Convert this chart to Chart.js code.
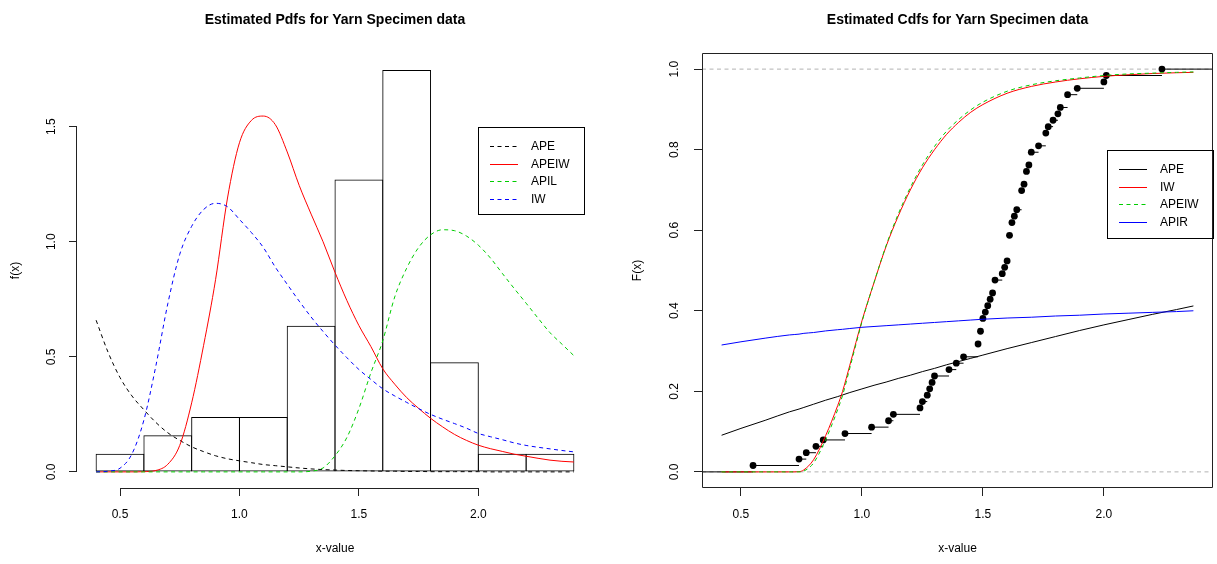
<!DOCTYPE html>
<html lang="en">
<head>
<meta charset="UTF-8">
<title>Estimated Pdfs and Cdfs for Yarn Specimen data</title>
<script src="https://cdn.jsdelivr.net/npm/chart.js"></script>
<style>
    body {
        margin: 0;
        background: #fff;
    }

    .panel {
        position: absolute;
        top: 0;
    }

    #pdfChart { left: 0; }
    #cdfChart { left: 608px; }
</style>
</head>
<body>
<canvas id="pdfChart" class="panel" width="608" height="564"></canvas>
<canvas id="cdfChart" class="panel" width="609" height="564"></canvas>

<script>
    // ---- left panel: histogram + fitted densities ----
    const histMid = [0.5, 0.7, 0.9, 1.1, 1.3, 1.5, 1.7, 1.9, 2.1, 2.3];
    const histDensity = [0.079, 0.159, 0.238, 0.238, 0.635, 1.270, 1.746, 0.476, 0.079, 0.079];

    const pdfX = [0.40, 0.45, 0.50, 0.55, 0.60, 0.65, 0.70, 0.75, 0.80, 0.85, 0.90, 0.95, 1.00, 1.05,
        1.10, 1.15, 1.20, 1.25, 1.30, 1.35, 1.40, 1.45, 1.50, 1.55, 1.60, 1.65, 1.70, 1.75, 1.80,
        1.85, 1.90, 1.95, 2.00, 2.05, 2.10, 2.15, 2.20, 2.25, 2.30, 2.35, 2.40];
    const apePdf = [0.659, 0.52, 0.41, 0.33, 0.27, 0.215, 0.17, 0.137, 0.109, 0.088, 0.07, 0.057, 0.048,
        0.04, 0.032, 0.027, 0.022, 0.017, 0.013, 0.01, 0.008, 0.006, 0.005, 0.004, 0.003, 0.003, 0.002,
        0.002, 0.001, 0.001, 0.001, 0.001, 0.001, 0, 0, 0, 0, 0, 0, 0, 0];
    const apeiwPdf = [0, 0, 0, 0, 0.001, 0.006, 0.033, 0.115, 0.30, 0.55, 0.835, 1.19, 1.43, 1.527, 1.546,
        1.509, 1.39, 1.245, 1.12, 1.00, 0.867, 0.744, 0.636, 0.545, 0.448, 0.381, 0.323, 0.276, 0.233,
        0.196, 0.163, 0.137, 0.116, 0.101, 0.089, 0.077, 0.068, 0.059, 0.051, 0.046, 0.043];
    const apilPdf = [0, 0, 0, 0, 0, 0, 0, 0, 0, 0, 0, 0, 0, 0, 0, 0, 0, 0, 0.003, 0.017, 0.07, 0.15,
        0.275, 0.43, 0.57, 0.76, 0.885, 0.975, 1.03, 1.052, 1.048, 1.025, 0.985, 0.93, 0.863, 0.797,
        0.733, 0.668, 0.605, 0.555, 0.505];
    const iwPdf = [0, 0.003, 0.016, 0.078, 0.225, 0.46, 0.73, 0.945, 1.067, 1.14, 1.167, 1.152, 1.097,
        1.04, 0.975, 0.89, 0.815, 0.742, 0.673, 0.61, 0.551, 0.496, 0.445, 0.402, 0.361, 0.33, 0.302,
        0.275, 0.25, 0.229, 0.21, 0.19, 0.167, 0.153, 0.14, 0.126, 0.115, 0.107, 0.1, 0.093, 0.087];

    const pdfXTicks = [0.5, 1.0, 1.5, 2.0];
    const pdfYTicks = [0.0, 0.5, 1.0, 1.5];

    // ---- right panel: empirical cdf + fitted cdfs ----
    const ecdfX = [0.55, 0.74, 0.77, 0.81, 0.84, 0.93, 1.04, 1.11, 1.13, 1.24, 1.25, 1.27, 1.28, 1.29,
        1.30, 1.36, 1.39, 1.42, 1.48, 1.49, 1.50, 1.51, 1.52, 1.53, 1.54, 1.55, 1.58, 1.59, 1.60, 1.61,
        1.62, 1.63, 1.64, 1.66, 1.67, 1.68, 1.69, 1.70, 1.73, 1.76, 1.77, 1.79, 1.81, 1.82, 1.85, 1.89,
        2.00, 2.01, 2.24];
    const ecdfCount = [1, 1, 1, 1, 1, 1, 1, 1, 1, 1, 1, 1, 1, 1, 1, 1, 1, 1, 2, 2, 2, 1, 1, 1, 1, 2,
        1, 1, 1, 4, 2, 1, 1, 3, 1, 2, 1, 2, 1, 2, 1, 1, 1, 1, 2, 1, 1, 1, 1];

    const cdfX = [0.42, 0.5, 0.6, 0.7, 0.74, 0.76, 0.8, 0.85, 0.9, 0.92, 0.95, 1.0, 1.05, 1.1, 1.15,
        1.2, 1.25, 1.3, 1.35, 1.4, 1.45, 1.5, 1.6, 1.7, 1.8, 1.9, 2.0, 2.1, 2.2, 2.3, 2.37];
    const apeCdf = [0.091, 0.108, 0.128, 0.149, 0.156, 0.16, 0.168, 0.178, 0.187, 0.191, 0.197, 0.206,
        0.215, 0.223, 0.232, 0.24, 0.249, 0.257, 0.266, 0.274, 0.282, 0.29, 0.306, 0.321, 0.336, 0.351,
        0.365, 0.378, 0.391, 0.403, 0.412];
    const iwCdf = [0, 0, 0, 0, 0.0005, 0.005, 0.03, 0.09, 0.165, 0.2, 0.265, 0.375, 0.47, 0.56, 0.635,
        0.70, 0.755, 0.80, 0.838, 0.868, 0.893, 0.912, 0.94, 0.957, 0.968, 0.976, 0.982, 0.986, 0.989,
        0.991, 0.992];
    const apeiwCdf = [0, 0, 0, 0, 0, 0.002, 0.022, 0.08, 0.155, 0.19, 0.258, 0.372, 0.47, 0.562, 0.64,
        0.706, 0.762, 0.808, 0.846, 0.875, 0.899, 0.918, 0.945, 0.961, 0.971, 0.978, 0.984, 0.988, 0.99,
        0.992, 0.993];
    const apirCdf = [0.315, 0.323, 0.332, 0.34, 0.342, 0.344, 0.346, 0.35, 0.353, 0.354, 0.356, 0.359,
        0.361, 0.363, 0.365, 0.367, 0.369, 0.371, 0.373, 0.375, 0.377, 0.379, 0.382, 0.384, 0.387, 0.389,
        0.392, 0.394, 0.396, 0.398, 0.40];

    const cdfXTicks = [0.5, 1.0, 1.5, 2.0];
    const cdfYTicks = [0.0, 0.2, 0.4, 0.6, 0.8, 1.0];

    const FONT = '"Liberation Sans", Arial, Helvetica, sans-serif';
    Chart.defaults.font.family = FONT;
    Chart.defaults.font.size = 12;
    Chart.defaults.color = '#000';

    const DASH = [4, 3.5];
    const SOLID = [];

    // line styles, shared by the curves and their legend keys
    const pdfStyle = {
        APE: { color: '#000000', dash: DASH },
        APEIW: { color: '#FF0000', dash: SOLID },
        APIL: { color: '#00CD00', dash: DASH },
        IW: { color: '#0000FF', dash: DASH }
    };
    const cdfStyle = {
        APE: { color: '#000000', dash: SOLID },
        IW: { color: '#FF0000', dash: SOLID },
        APEIW: { color: '#00CD00', dash: DASH },
        APIR: { color: '#0000FF', dash: SOLID }
    };

    // R-like axes, box, title and legend
    const rFrame = {
        id: 'rFrame',
        afterDraw(chart, args, opts) {
            const { ctx, chartArea: a, scales: { x, y } } = chart;
            ctx.save();
            ctx.lineWidth = 1;
            ctx.strokeStyle = '#222';
            ctx.setLineDash([]);
            ctx.beginPath();
            if (opts.box) {
                ctx.rect(Math.round(a.left) + 0.5, Math.round(a.top) + 0.5,
                    Math.round(a.width) - 1, Math.round(a.height) - 1);
            } else {
                const yb = Math.round(a.bottom) + 0.5;
                ctx.moveTo(x.getPixelForValue(opts.xTicks[0]), yb);
                ctx.lineTo(x.getPixelForValue(opts.xTicks[opts.xTicks.length - 1]), yb);
                const xl = Math.round(a.left) - 0.5;
                ctx.moveTo(xl, y.getPixelForValue(opts.yTicks[0]));
                ctx.lineTo(xl, y.getPixelForValue(opts.yTicks[opts.yTicks.length - 1]));
            }
            ctx.stroke();

            // title
            ctx.fillStyle = '#000';
            ctx.font = 'bold 14px ' + FONT;
            ctx.textAlign = 'center';
            ctx.textBaseline = 'middle';
            ctx.fillText(opts.title, (a.left + a.right) / 2, opts.titleY);

            // legend
            const L = opts.legend;
            ctx.strokeStyle = '#000';
            ctx.strokeRect(L.x + 0.5, L.y + 0.5, L.w, L.h);
            ctx.font = '12px ' + FONT;
            ctx.textAlign = 'left';
            L.items.forEach((name, i) => {
                const st = L.styles[name];
                const ly = Math.round(L.y + L.first + i * L.gap) + 0.5;
                ctx.beginPath();
                ctx.strokeStyle = st.color;
                ctx.setLineDash(st.dash);
                ctx.moveTo(L.x + L.line[0], ly);
                ctx.lineTo(L.x + L.line[1], ly);
                ctx.stroke();
                ctx.setLineDash([]);
                ctx.fillStyle = '#000';
                ctx.fillText(name, L.x + L.text, ly);
            });
            ctx.restore();
        }
    };

    function rAxis(min, max, ticks, size, tickPad, title, titlePad, isY) {
        return {
            type: 'linear',
            min: min,
            max: max,
            offset: false,
            afterBuildTicks: s => { s.ticks = ticks.map(v => ({ value: v })); },
            afterFit: s => { if (isY) s.width = size; else s.height = size; },
            border: { display: false },
            grid: { offset: false, drawOnChartArea: false, drawTicks: true, tickLength: 8, color: '#222' },
            ticks: {
                padding: tickPad,
                callback: v => Number(v).toFixed(1),
                minRotation: isY ? 90 : 0,
                maxRotation: isY ? 90 : 0,
                crossAlign: isY ? 'center' : 'near'
            },
            title: {
                display: true,
                text: title,
                padding: isY ? { top: titlePad, bottom: 0 } : { top: 0, bottom: titlePad }
            }
        };
    }

    function curve(label, xs, ys, style, order) {
        return {
            label: label,
            data: xs.map((x, i) => ({ x: x, y: ys[i] })),
            showLine: true,
            borderColor: style.color,
            borderWidth: 1,
            borderDash: style.dash,
            pointRadius: 0,
            cubicInterpolationMode: 'monotone',
            fill: false,
            order: order
        };
    }

    // left chart
    new Chart(document.getElementById('pdfChart'), {
        type: 'scatter',
        data: {
            datasets: [
                {
                    type: 'bar',
                    label: 'hist',
                    data: histMid.map((x, i) => ({ x: x, y: histDensity[i] })),
                    backgroundColor: 'rgba(0,0,0,0)',
                    borderColor: '#000',
                    borderWidth: 1,
                    borderSkipped: false,
                    // a hair wider than the bin so neighbouring borders share one pixel line
                    barPercentage: 1.021,
                    categoryPercentage: 1,
                    grouped: false,
                    order: 10
                },
                curve('APE', pdfX, apePdf, pdfStyle.APE, 4),
                curve('APEIW', pdfX, apeiwPdf, pdfStyle.APEIW, 3),
                curve('APIL', pdfX, apilPdf, pdfStyle.APIL, 2),
                curve('IW', pdfX, iwPdf, pdfStyle.IW, 1)
            ]
        },
        options: {
            responsive: false,
            animation: false,
            devicePixelRatio: 1,
            layout: { padding: { top: 53, left: 0, right: 15, bottom: 0 } },
            scales: {
                x: rAxis(0.32, 2.48, pdfXTicks, 76, 11.8, 'x-value', 7.8, false),
                y: rAxis(-0.07, 1.82, pdfYTicks, 77, 8.7, 'f(x)', 8.8, true)
            },
            plugins: {
                legend: { display: false },
                tooltip: { enabled: false },
                rFrame: {
                    box: false,
                    xTicks: pdfXTicks,
                    yTicks: pdfYTicks,
                    title: 'Estimated Pdfs for Yarn Specimen data',
                    titleY: 20,
                    legend: {
                        x: 478, y: 127, w: 106, h: 87, first: 19, gap: 17.5,
                        line: [12, 40], text: 53,
                        items: ['APE', 'APEIW', 'APIL', 'IW'],
                        styles: pdfStyle
                    }
                }
            }
        },
        plugins: [rFrame]
    });

    // right chart
    const cdfMin = 0.339, cdfMax = 2.451;
    const total = ecdfCount.reduce((s, n) => s + n, 0);
    let cum = 0;
    const ecdfPts = ecdfX.map((x, i) => {
        cum += ecdfCount[i];
        return { x: x, y: cum / total };
    });
    const stepPts = [{ x: cdfMin, y: 0 }, { x: ecdfX[0], y: 0 }, { x: null, y: null }];
    ecdfPts.forEach((p, i) => {
        const xEnd = i < ecdfPts.length - 1 ? ecdfPts[i + 1].x : cdfMax;
        stepPts.push({ x: p.x, y: p.y }, { x: xEnd, y: p.y }, { x: null, y: null });
    });

    new Chart(document.getElementById('cdfChart'), {
        type: 'scatter',
        data: {
            datasets: [
                {
                    label: 'ref',
                    data: [{ x: cdfMin, y: 0 }, { x: cdfMax, y: 0 }, { x: null, y: null },
                        { x: cdfMin, y: 1 }, { x: cdfMax, y: 1 }],
                    showLine: true,
                    borderColor: '#B3B3B3',
                    borderWidth: 1,
                    borderDash: DASH,
                    pointRadius: 0,
                    spanGaps: false,
                    order: 10
                },
                {
                    label: 'steps',
                    data: stepPts,
                    showLine: true,
                    borderColor: '#000',
                    borderWidth: 1,
                    pointRadius: 0,
                    spanGaps: false,
                    order: 9
                },
                {
                    label: 'ecdf',
                    data: ecdfPts,
                    showLine: false,
                    pointRadius: 3.4,
                    pointBorderWidth: 0,
                    pointBackgroundColor: '#000',
                    order: 8
                },
                curve('APE', cdfX, apeCdf, cdfStyle.APE, 4),
                curve('IW', cdfX, iwCdf, cdfStyle.IW, 3),
                curve('APEIW', cdfX, apeiwCdf, cdfStyle.APEIW, 2),
                curve('APIR', cdfX, apirCdf, cdfStyle.APIR, 1)
            ]
        },
        options: {
            responsive: false,
            animation: false,
            devicePixelRatio: 1,
            layout: { padding: { top: 53, left: 0, right: 0, bottom: 0 } },
            scales: {
                x: rAxis(cdfMin, cdfMax, cdfXTicks, 76, 11.8, 'x-value', 7.8, false),
                y: rAxis(-0.04, 1.04, cdfYTicks, 94, 10.7, 'F(x)', 22.8, true)
            },
            plugins: {
                legend: { display: false },
                tooltip: { enabled: false },
                rFrame: {
                    box: true,
                    xTicks: cdfXTicks,
                    yTicks: cdfYTicks,
                    title: 'Estimated Cdfs for Yarn Specimen data',
                    titleY: 20,
                    legend: {
                        x: 499, y: 150, w: 106, h: 88, first: 19, gap: 17.5,
                        line: [12, 40], text: 53,
                        items: ['APE', 'IW', 'APEIW', 'APIR'],
                        styles: cdfStyle
                    }
                }
            }
        },
        plugins: [rFrame]
    });
</script>
</body>
</html>
